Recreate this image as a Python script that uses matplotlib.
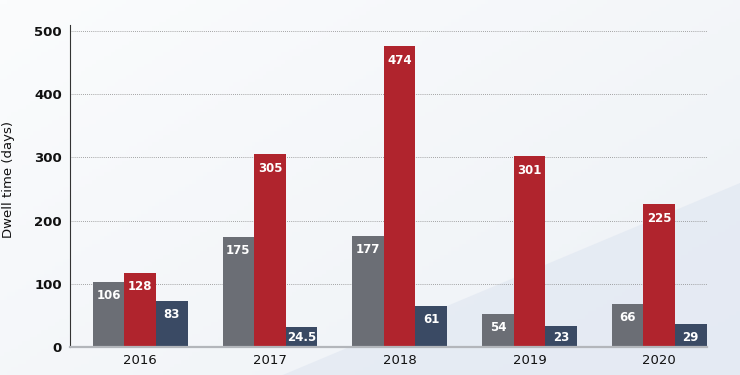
import matplotlib
matplotlib.use("Agg")
import matplotlib.pyplot as plt
import numpy as np
from matplotlib.colors import LinearSegmentedColormap

# ---- data ----
years = ["2016", "2017", "2018", "2019", "2020"]
# bar heights as drawn in the picture
gray_vals = [103, 174, 176, 53, 68]
red_vals = [117, 305, 476, 302, 226]
navy_vals = [73, 31, 65, 33, 36]
# printed labels
gray_labels = ["106", "175", "177", "54", "66"]
red_labels = ["128", "305", "474", "301", "225"]
navy_labels = ["83", "24.5", "61", "23", "29"]
yticks = [0, 100, 200, 300, 400, 500]

colors = ["#6b6e75", "#b0242d", "#3a4a64"]

fig = plt.figure(figsize=(7.4, 3.75), dpi=100)

# background gradient
bg = fig.add_axes([0, 0, 1, 1], zorder=-10)
bg.set_axis_off()
nx, ny = 200, 100
X, Y = np.meshgrid(np.linspace(0, 1, nx), np.linspace(0, 1, ny))
G = 0.55 * X + 0.45 * Y
G = G / G.max()
cmap = LinearSegmentedColormap.from_list("bgc", ["#fbfcfd", "#edf1f6"])
bg.imshow(G, cmap=cmap, extent=[0, 1, 0, 1], aspect="auto", origin="upper")
bg.fill([0.382, 1.0, 1.0], [0.0, 0.512, 0.0], color="#dfe6f1", alpha=0.6, lw=0)
bg.set_xlim(0, 1)
bg.set_ylim(0, 1)

ax = fig.add_axes([69.5 / 740, 1 - 347 / 375, 637.2 / 740, 322 / 375])
ax.patch.set_alpha(0)

x = np.arange(len(years))
w = 0.243
series = [(gray_vals, gray_labels), (red_vals, red_labels), (navy_vals, navy_labels)]
for i, (vals, labs) in enumerate(series):
    pos = x + (i - 1) * w
    ax.bar(pos, vals, width=w, color=colors[i], zorder=3, linewidth=0)
    for p, v, l in zip(pos, vals, labs):
        ty = max(v - 22, 15)
        ax.text(p, ty, l, ha="center", va="center", color="white",
                fontsize=8.5, fontweight="bold", zorder=4)

ax.set_xlim(-0.545, 4.366)
ax.set_ylim(0, 509.5)
ax.set_yticks(yticks)
ax.set_yticklabels([str(t) for t in yticks])
ax.set_xticks(x)
ax.set_xticklabels(years)
ax.tick_params(axis="y", length=0, pad=5.5, labelsize=9.5, labelcolor="#111111")
ax.tick_params(axis="x", length=0, pad=5, labelsize=9.5, labelcolor="#111111")
for lab in ax.get_yticklabels():
    lab.set_fontweight("bold")

ax.grid(axis="y", linestyle=(0, (1, 1.5)), color="#888888", linewidth=0.6, zorder=0)
ax.grid(axis="x", visible=False)

for s in ["top", "right"]:
    ax.spines[s].set_visible(False)
ax.spines["left"].set_color("#333333")
ax.spines["left"].set_linewidth(0.8)
ax.spines["bottom"].set_color("#b3b6bb")
ax.spines["bottom"].set_linewidth(1.6)
ax.spines["bottom"].set_zorder(5)

ax.set_ylabel("Dwell time (days)", fontsize=9.5, color="#111111")
ax.yaxis.set_label_coords(-0.0855, 0.52)

fig.savefig("out.png", dpi=100)
